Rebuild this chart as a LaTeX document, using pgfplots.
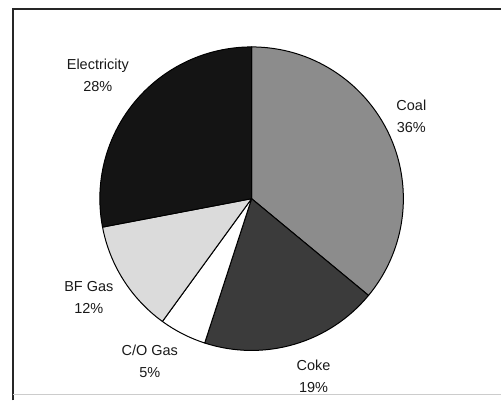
\documentclass[border=0pt]{standalone}
\usepackage{pgfplots}
\pgfplotsset{compat=1.18}
\usepackage{fontspec}
\setmainfont{Liberation Sans}

\definecolor{coalc}{gray}{0.55}
\definecolor{cokec}{gray}{0.23}
\definecolor{coc}{gray}{1.0}
\definecolor{bfc}{gray}{0.86}
\definecolor{elecc}{gray}{0.08}

\tikzset{slicelabel/.style={align=center, inner sep=0pt, font=\fontsize{14.5}{22}\selectfont, text=black!90}}

\begin{document}
\begin{tikzpicture}
\begin{axis}[
  x=1pt, y=1pt,
  xmin=0, xmax=502, ymin=0, ymax=401,
  hide axis, clip=false,
]
  % page extent
  \path (axis cs:0,0) rectangle (axis cs:502,401);
  % frame round the chart
  \draw[line width=1.6pt, black!85] (axis cs:13,0) -- (axis cs:13,392) -- (axis cs:502,392);
  \draw[line width=0.6pt, black!20] (axis cs:13,6) -- (axis cs:502,6);

  % pie slices: share in percent / fill colour, clockwise from twelve o'clock
  \gdef\acc{90}
  \foreach \v/\c in {36/coalc, 19/cokec, 5/coc, 12/bfc, 28/elecc} {
    \pgfmathsetmacro\endang{\acc-3.6*\v}
    \edef\slice{\noexpand\filldraw[fill=\c, draw=black, line width=1pt, line join=round]
      (axis cs:252,202) -- ++(\acc:152pt)
      arc[start angle=\acc, end angle=\endang, radius=152pt] -- cycle;}
    \slice
    \global\let\acc\endang
  }

  % slice labels
  \node[slicelabel] at (axis cs:98,326) {Electricity\\28\%};
  \node[slicelabel] at (axis cs:412,284.5) {Coal\\36\%};
  \node[slicelabel] at (axis cs:89,103) {BF Gas\\12\%};
  \node[slicelabel] at (axis cs:150,39) {C/O Gas\\5\%};
  \node[slicelabel] at (axis cs:314,24) {Coke\\19\%};
\end{axis}
\end{tikzpicture}
\end{document}
